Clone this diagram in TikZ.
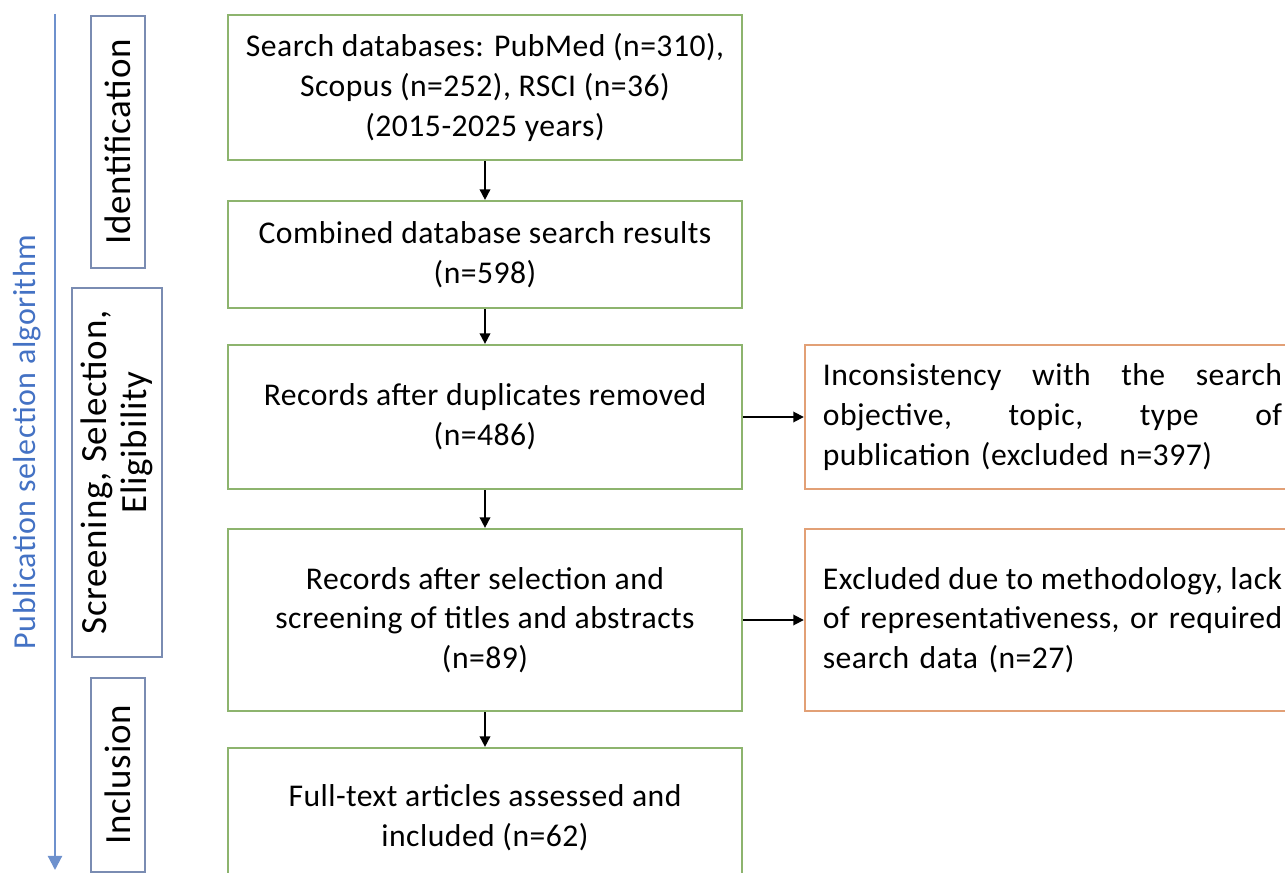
\documentclass[tikz,border=0pt]{standalone}
\usepackage{fontspec}
\setmainfont{Carlito}[LetterSpace=1.5]
\newfontfamily\phasefont{Carlito}[LetterSpace=2]
\usepackage{tikz}
\usetikzlibrary{positioning, arrows.meta, shapes.geometric}
\definecolor{boxgreen}{RGB}{141, 180, 110}
\definecolor{boxorange}{RGB}{226, 160, 118}
\definecolor{phaseblue}{RGB}{122, 140, 178}
\definecolor{axisblue}{RGB}{110, 145, 205}
\definecolor{labelblue}{RGB}{68, 114, 196}
\tikzset{
  mainbox/.style={rectangle, draw=boxgreen, line width=0.6pt, minimum width=5.14cm, align=center, inner sep=0pt},
  exclbox/.style={rectangle, draw=boxorange, line width=0.6pt, minimum width=4.95cm, text width=4.59cm, align=left, inner sep=0pt},
  phasebox/.style={rectangle, draw=phaseblue, line width=0.6pt, rotate=90, align=center, inner sep=0pt,
    font=\phasefont\fontsize{10.5}{11.2}\selectfont},
  arrow/.style={line width=0.5pt, -{Triangle[length=3pt, width=3pt]}}
}
\newcommand{\fullline}[2][4.59cm]{\makebox[#1][l]{#2}}

\begin{document}
\begin{tikzpicture}[x=0.01cm, y=-0.01cm, font=\fontsize{9}{11.3}\selectfont]
    \useasboundingbox (0,0) rectangle (1285,873);

    % Eje izquierdo y su etiqueta
    \coordinate (ftop) at (55,14);
    \coordinate (fbot) at (55,870);
    \draw[axisblue, line width=0.6pt, -{Triangle[length=4pt, width=4pt]}] (ftop) -- (fbot);
    \node[rotate=90, text=labelblue, font=\fontsize{9.1}{11}\selectfont] (lbl) at (27,442) {Publication selection algorithm};

    % Fases
    \node[phasebox, minimum width=2.52cm, minimum height=0.54cm] (ident) at (118,142) {Identification};
    \node[phasebox, minimum width=3.69cm, minimum height=0.90cm] (screen) at (117,472.5) {Screening, Selection,\\\hspace*{0.6cm}Eligibility};
    \node[phasebox, minimum width=1.94cm, minimum height=0.54cm] (incl) at (118,775) {Inclusion};

    % Cajas principales
    \node[mainbox, minimum height=1.45cm] (db) at (485,87.5) {Search databases: PubMed (n=310),\\Scopus (n=252), RSCI (n=36)\\(2015-2025 years)};
    \node[mainbox, minimum height=1.07cm] (comb) at (485,254.5) {Combined database search results\\(n=598)};
    \node[mainbox, minimum height=1.44cm] (dup) at (485,417) {Records after duplicates removed\\(n=486)};
    \node[mainbox, minimum height=1.82cm] (sel) at (485,620) {Records after selection and\\screening of titles and abstracts\\(n=89)};
    \node[mainbox, minimum height=1.40cm] (full) at (485,818) {Full-text articles assessed and\\included (n=62)};

    % Cajas de excluidos (lineas justificadas a mano)
    \node[exclbox, minimum height=1.44cm] (exA) at (1052.5,417) {\fullline{Inconsistency\hfill with\hfill the\hfill search}\\\fullline{objective,\hfill topic,\hfill type\hfill of}\\publication (excluded n=397)};
    \node[exclbox, minimum height=1.82cm] (exB) at (1052.5,620) {\fullline{Excluded\hfill due\hfill to\hfill methodology,\hfill lack}\\\fullline{of\hfill representativeness,\hfill or\hfill required}\\search data (n=27)};

    % Flechas
    \draw[arrow] (db) -- (comb);
    \draw[arrow] (comb) -- (dup);
    \draw[arrow] (dup) -- (sel);
    \draw[arrow] (sel) -- (full);
    \draw[arrow] (dup) -- (exA);
    \draw[arrow] (sel) -- (exB);

\end{tikzpicture}
\end{document}
